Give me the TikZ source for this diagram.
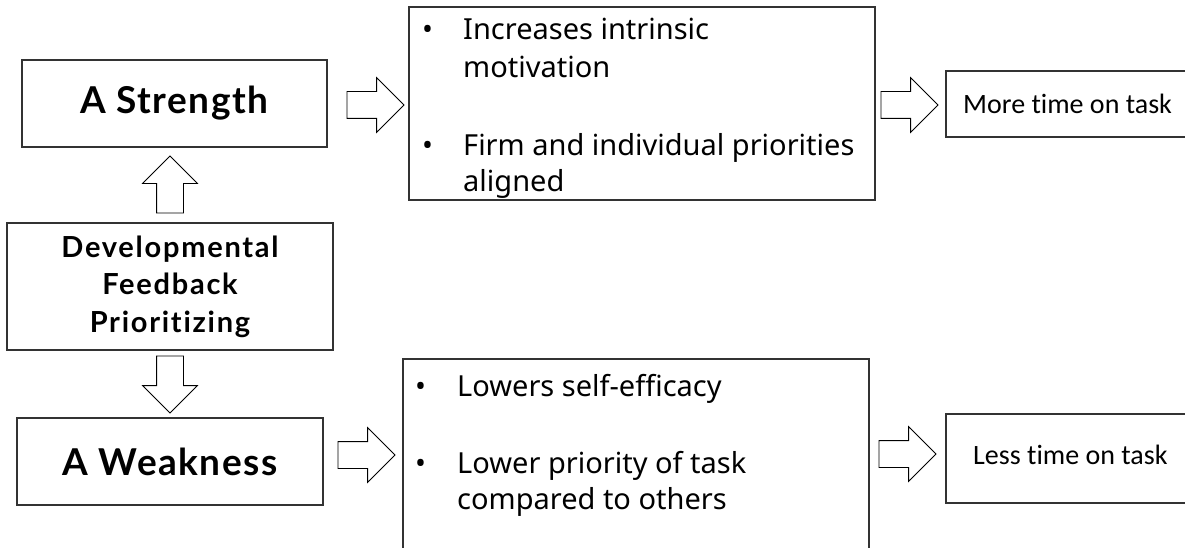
\documentclass[tikz,border=0pt]{standalone}
\usepackage{fontspec}
\setmainfont{Noto Sans}
\newfontfamily\headfont[LetterSpace=4,Ligatures=CommonOff]{Lato}
\newfontfamily\devfont[LetterSpace=6,Ligatures=CommonOff]{Lato}
\newfontfamily\calfont[Ligatures=CommonOff]{Carlito}
\usetikzlibrary{shapes.arrows}

\begin{document}
\begin{tikzpicture}[x=1pt,y=-1pt,
  box/.style={draw=black!80, line width=1.1pt, inner sep=0pt},
  headlabel/.style={font=\headfont\bfseries\fontsize{37}{40}\selectfont},
  bul/.style={anchor=base west, inner sep=0pt, font=\fontsize{29}{34}\selectfont},
  endtext/.style={anchor=base west, inner sep=0pt, font=\calfont\fontsize{28}{32}\selectfont},
  blockarrow/.style={draw=black, line width=0.8pt, single arrow, single arrow tip angle=90,
    single arrow head extend=14pt, inner xsep=0pt, inner ysep=13pt,
    minimum height=57pt, outer sep=0pt, anchor=tail}
]
\useasboundingbox (0,0) rectangle (1185,548);
\clip (0,0) rectangle (1185,548);

% left column
\node[box, minimum width=305pt, minimum height=87pt, headlabel] (strength) at (174.5,103.5) {A Strength};
\node[box, minimum width=326pt, minimum height=127pt, align=center,
      font=\devfont\bfseries\fontsize{29}{37.5}\selectfont] (dev) at (170,286.5)
      {Developmental\\Feedback\\Prioritizing};
\node[box, minimum width=306pt, minimum height=87pt, headlabel] (weak) at (170,461.5) {A Weakness};

% effect boxes
\node[box, minimum width=466pt, minimum height=193pt] (upper) at (642,103.5) {};
\node[box, minimum width=466pt, minimum height=240pt] (lower) at (636,479) {};

% outcome boxes
\node[box, minimum width=260pt, minimum height=66pt] (more) at (1076,104) {};
\node[box, minimum width=260pt, minimum height=89pt] (less) at (1076,458.5) {};

% bullet texts, upper
\node[bul] (ub1) at (422,40) {•};
\node[bul] (ut1) at (463,40) {Increases intrinsic};
\node[bul] (ut2) at (463,78) {motivation};
\node[bul] (ub2) at (422,156) {•};
\node[bul] (ut3) at (463,156) {Firm and individual priorities};
\node[bul] (ut4) at (463,192) {aligned};

% bullet texts, lower
\node[bul] (lb1) at (415,396) {•};
\node[bul] (lt1) at (457,396) {Lowers self-efficacy};
\node[bul] (lb2) at (415,473) {•};
\node[bul] (lt2) at (457,473) {Lower priority of task};
\node[bul] (lt3) at (457,509) {compared to others};

% outcome texts
\node[endtext] (moretext) at (963,114) {More time on task};
\node[endtext] (lesstext) at (973,464) {Less time on task};

% block arrows
\node[blockarrow] (a1) at (347,105) {};
\node[blockarrow] (a2) at (881,105) {};
\node[blockarrow, rotate=90] (a3) at (170,213) {};
\node[blockarrow, rotate=-90] (a4) at (170,356) {};
\node[blockarrow] (a5) at (338,455) {};
\node[blockarrow] (a6) at (879,454) {};
\end{tikzpicture}
\end{document}
